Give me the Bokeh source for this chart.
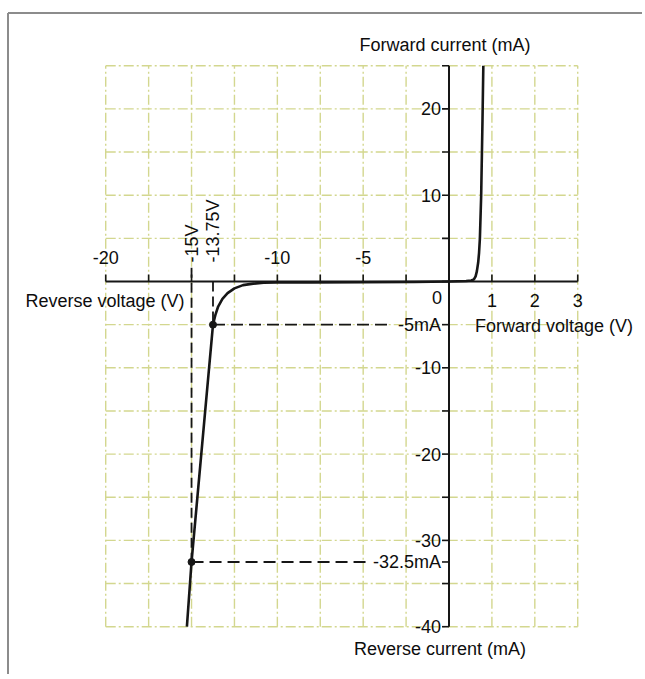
import numpy as np
from bokeh.plotting import figure
from bokeh.models import Range1d
from bokeh.core.properties import value
from bokeh.embed import file_html
from bokeh.resources import INLINE

# ---------------- data ----------------
# forward characteristic (V, mA)
fwd_v = [0.0, 0.40, 0.52, 0.58, 0.62, 0.65, 0.68, 0.70, 0.72, 0.75, 0.78, 0.80]
fwd_i = [0.0, 0.05, 0.12, 0.25, 0.6, 1.2, 2.2, 3.3, 5.0, 10.0, 18.5, 25.0]
# reverse characteristic (V, mA)
rev_v = [0.0, -2.0, -5.0, -8.0, -10.0, -10.8, -11.4, -12.0, -12.5, -12.9, -13.2,
         -13.45, -13.6, -13.75, -15.0, -15.27]
rev_i = [0.0, -0.05, -0.08, -0.1, -0.12, -0.15, -0.25, -0.42, -0.8, -1.35, -2.0,
         -2.9, -3.8, -5.0, -32.5, -40.0]
# marked operating points
pt_v = [-13.75, -15.0]
pt_i = [-5.0, -32.5]
pt_labels = ["-13.75V", "-15V"]
pt_i_labels = ["-5mA", "-32.5mA"]
label_end_v = [-3.4, -4.7]   # where the horizontal dashed guides stop (label start)

# axes ticks
rev_ticks = [-20, -17.5, -15, -12.5, -10, -7.5, -5, -2.5]
rev_tick_labels = {-20: "-20", -10: "-10", -5: "-5"}
fwd_ticks = [0, 1, 2, 3]
cur_ticks = [25, 20, 15, 10, 5, 0, -5, -10, -15, -20, -25, -30, -35, -40]
cur_tick_labels = {20: "20", 10: "10", -10: "-10", -20: "-20", -30: "-30", -40: "-40"}


# broken x scale: 2.5 V per grid cell on the reverse side, 1 V per cell forward
def xs(v):
    v = np.asarray(v, dtype=float)
    return np.where(v < 0, v / 2.5, v)


PXU = 42.91   # px per grid unit
PYU = 8.63    # px per mA
ORX = 448.5   # page x of origin
ORY = 281.0   # page y of origin
OFF = 0       # page position of the figure's top-left corner
W, H = 642, 674

x0 = (OFF - ORX) / PXU
x1 = (OFF + W - ORX) / PXU
y1 = (ORY - OFF) / PYU
y0 = (ORY - OFF - H) / PYU

p = figure(width=W, height=H, output_backend="svg", toolbar_location=None,
           x_range=Range1d(x0, x1), y_range=Range1d(y0, y1),
           x_axis_location=None, y_axis_location=None, min_border=0)
p.grid.visible = False
p.outline_line_color = None
p.background_fill_color = "white"
p.border_fill_color = "white"

FONT = value("Liberation Sans")
FS = "18px"
TXT = "#0d0d0d"
DARK = "#161616"
GRID = "#d3d78f"

# frame of the figure box (top and left)
top_y = (ORY - 12.5) / PYU
left_x = (7.5 - ORX) / PXU
p.line([left_x, x1], [top_y, top_y], line_color="#8c8c8c", line_width=2)
p.line([left_x, left_x], [y0, top_y], line_color="#8c8c8c", line_width=2)

# grid
gx = list(xs(rev_ticks)) + list(xs(fwd_ticks))
gx_lo, gx_hi = min(gx), max(gx)
gy_lo, gy_hi = min(cur_ticks), max(cur_ticks)
for gxx in gx:
    if gxx == 0:
        continue
    p.line([gxx, gxx], [gy_lo, gy_hi], line_color=GRID, line_width=1.4,
           line_dash="10 3 2 3")
for gyy in cur_ticks:
    if gyy == 0:
        continue
    p.line([gx_lo, gx_hi], [gyy, gyy], line_color=GRID, line_width=1.4,
           line_dash="10 3 2 3")

# axes lines
p.line([gx_lo, gx_hi], [0, 0], line_color=DARK, line_width=2)
p.line([0, 0], [gy_lo, gy_hi], line_color=DARK, line_width=2)

# ticks
p.ray(x=gx, y=[0] * len(gx), length=7, length_units="screen", angle=np.pi / 2,
      line_color=DARK, line_width=1.6)
yt = cur_ticks + [-32.5]
p.ray(x=[0] * len(yt), y=yt, length=7, length_units="screen", angle=np.pi,
      line_color=DARK, line_width=1.6)

# dashed guides
for v, i, ve in zip(pt_v, pt_i, label_end_v):
    p.line([float(xs(v)), float(xs(ve))], [i, i], line_color=DARK, line_width=1.8,
           line_dash="12 6")
p.line([float(xs(pt_v[0]))] * 2, [0, pt_i[0]], line_color=DARK, line_width=1.8,
       line_dash="10 5")
p.line([float(xs(pt_v[1]))] * 2, [1.6, pt_i[1]], line_color=DARK, line_width=1.8,
       line_dash="10 5")

# characteristic curve
p.line(xs(rev_v), rev_i, line_color=DARK, line_width=2.6, line_join="round")
p.line(xs(fwd_v), fwd_i, line_color=DARK, line_width=2.6, line_join="round")
p.scatter(xs(pt_v), pt_i, size=7, color=DARK)

# tick labels
tl_x = [float(xs(k)) for k in rev_tick_labels]
p.text(x=tl_x, y=[0] * len(tl_x), text=list(rev_tick_labels.values()),
       text_font=FONT, text_font_size=FS, text_color=TXT,
       text_align="center", text_baseline="middle", y_offset=-24)
p.text(x=[float(v) for v in fwd_ticks[1:]], y=[0] * 3,
       text=[str(v) for v in fwd_ticks[1:]],
       text_font=FONT, text_font_size=FS, text_color=TXT,
       text_align="center", text_baseline="middle", y_offset=19)
p.text(x=[0], y=[0], text=["0"], text_font=FONT, text_font_size=FS, text_color=TXT,
       text_align="center", text_baseline="middle", x_offset=-12, y_offset=16)
ytl = list(cur_tick_labels.keys()) + pt_i
ytt = list(cur_tick_labels.values()) + pt_i_labels
p.text(x=[0] * len(ytl), y=ytl, text=ytt, text_font=FONT, text_font_size=FS,
       text_color=TXT, text_align="right", text_baseline="middle", x_offset=-8)

# rotated voltage labels
p.text(x=[float(v) for v in xs(pt_v)], y=[0, 0], text=pt_labels, angle=np.pi / 2,
       text_font=FONT, text_font_size=FS, text_color=TXT,
       text_align="left", text_baseline="middle", y_offset=-19)

# axis titles
p.text(x=[0], y=[gy_hi], text=["Forward current (mA)"], text_font=FONT,
       text_font_size=FS, text_color=TXT, text_align="center",
       text_baseline="middle", x_offset=-4, y_offset=-21)
p.text(x=[0], y=[gy_lo], text=["Reverse current (mA)"], text_font=FONT,
       text_font_size=FS, text_color=TXT, text_align="center",
       text_baseline="middle", x_offset=-9, y_offset=22)
p.text(x=[float(xs(-15))], y=[0], text=["Reverse voltage (V)"], text_font=FONT,
       text_font_size=FS, text_color=TXT, text_align="right",
       text_baseline="middle", x_offset=-7, y_offset=19)
p.text(x=[0], y=[-5], text=["Forward voltage (V)"], text_font=FONT,
       text_font_size=FS, text_color=TXT, text_align="left",
       text_baseline="middle", x_offset=26, y_offset=1)

open("out.html", "w").write(file_html(p, INLINE))
